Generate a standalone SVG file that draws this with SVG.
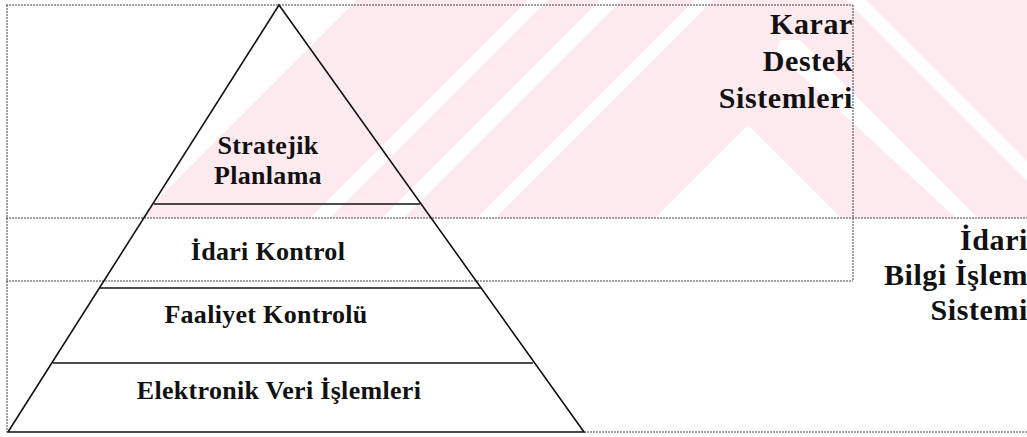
<svg xmlns="http://www.w3.org/2000/svg" width="1027" height="437" viewBox="0 0 1027 437">
<style>
.t{font-family:"Liberation Serif","Times New Roman",serif;font-weight:bold;fill:#111;}
.in{font-size:26px;letter-spacing:0.3px;text-anchor:middle;}
.side{font-size:30px;letter-spacing:0.6px;text-anchor:end;}
.dot{stroke:#444;stroke-width:1;stroke-dasharray:2 1;fill:none;}
.solid{stroke:#111;stroke-width:1.6;fill:none;}
</style>
<defs>
<clipPath id="wmclip"><rect x="0" y="0" width="1027" height="218"/></clipPath>
</defs>
<rect width="1027" height="437" fill="#fff"/>
<g id="watermark" clip-path="url(#wmclip)">
<polygon points="357,0 1027,0 1027,218 139,218" fill="#fdeaee"/>
<g fill="#fff">
<polygon points="528,0 548,0 330,218 310,218"/>
<polygon points="600,0 622,0 404,218 382,218"/>
<polygon points="695,0 713,0 495,218 477,218"/>
<polygon points="846,0 866,0 1084,218 1064,218"/>
<polygon points="780,40 800,40 978,218 956,218 776,52"/>
<polygon points="748,125 841,218 655,218"/>
</g>
</g>
<g id="frames">
<line class="dot" x1="6" y1="5" x2="853" y2="5"/>
<line class="dot" x1="7" y1="5" x2="7" y2="432"/>
<line class="dot" x1="853" y1="5" x2="853" y2="281"/>
<line class="dot" x1="6" y1="218" x2="1027" y2="218"/>
<line class="dot" x1="6" y1="281" x2="853" y2="281"/>
<line class="dot" x1="584" y1="432" x2="1027" y2="432"/>
</g>
<g id="pyramid">
<polygon class="solid" points="279,5 584,432 8,432"/>
<line class="solid" x1="154" y1="204" x2="420" y2="204"/>
<line class="solid" x1="100" y1="288" x2="481" y2="288"/>
<line class="solid" x1="53" y1="363" x2="533" y2="363"/>
</g>
<g id="node-stratejik">
<text class="t in" x="268" y="154">Stratejik</text>
<text class="t in" x="268" y="184">Planlama</text>
</g>
<g id="node-idari-kontrol">
<text class="t in" x="268" y="260">İdari Kontrol</text>
</g>
<g id="node-faaliyet">
<text class="t in" x="266" y="323">Faaliyet Kontrolü</text>
</g>
<g id="node-evi">
<text class="t in" x="279" y="399">Elektronik Veri İşlemleri</text>
</g>
<g id="label-kds">
<text class="t side" x="853" y="34">Karar</text>
<text class="t side" x="853" y="71">Destek</text>
<text class="t side" x="853" y="108">Sistemleri</text>
</g>
<g id="label-ibis">
<text class="t side" x="1028" y="250">İdari</text>
<text class="t side" x="1028" y="285">Bilgi İşlem</text>
<text class="t side" x="1028" y="320">Sistemi</text>
</g>
</svg>
